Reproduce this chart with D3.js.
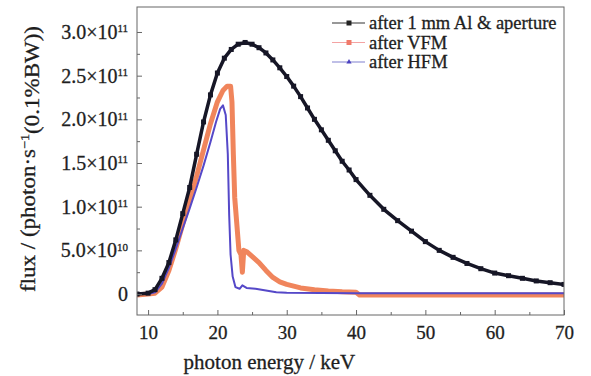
<!DOCTYPE html>
<html>
<head>
<meta charset="utf-8">
<script src="https://cdn.jsdelivr.net/npm/d3@7"></script>
<style>
  body { margin: 0; background: #fff; }
  svg text { font-family: "Liberation Serif", "Times New Roman", serif; fill: #1e1e1e; stroke: #1e1e1e; stroke-width: 0.3px; }
</style>
</head>
<body>
<div id="chart"></div>
<script>
// flux values are in units of 1e11 photon/s/(0.1%BW)
const energyAl = [8.4, 10, 11, 12, 13, 14, 15, 16, 17, 18, 19, 20, 21, 22, 23, 24, 25, 26, 27, 28, 29, 30,
  31, 32, 33, 34, 35, 36, 37, 38, 39, 40, 42, 44, 46, 48, 50, 52, 54, 56, 58, 60, 62, 64, 66, 68, 70];
const fluxAl = [0.0, 0.01, 0.05, 0.18, 0.36, 0.62, 0.92, 1.22, 1.6, 1.97, 2.28, 2.53, 2.7, 2.8, 2.86, 2.88,
  2.86, 2.82, 2.76, 2.68, 2.59, 2.49, 2.38, 2.26, 2.13, 2.0, 1.88, 1.76, 1.64, 1.52, 1.42, 1.31,
  1.13, 0.97, 0.84, 0.72, 0.6, 0.5, 0.42, 0.35, 0.29, 0.24, 0.21, 0.18, 0.15, 0.13, 0.11];

const energyVFM = [8.4, 10, 11, 12, 13, 14, 15, 16, 17, 18, 19, 20, 20.8, 21.4, 21.9, 22.1, 22.3, 22.5,
  22.8, 23.1, 23.4, 23.6, 23.8, 24.3, 25, 26, 27, 28, 29, 30, 32, 34, 36, 38, 40, 40.5, 50, 60, 70];
const fluxVFM = [-0.01, 0.0, 0.01, 0.08, 0.27, 0.52, 0.8, 1.07, 1.35, 1.65, 1.95, 2.2, 2.33, 2.38, 2.38,
  2.2, 1.6, 1.1, 0.8, 0.5, 0.45, 0.25, 0.5, 0.48, 0.43, 0.36, 0.27, 0.19, 0.14, 0.11, 0.07, 0.05,
  0.035, 0.025, 0.02, -0.01, -0.01, -0.01, -0.01];

const energyHFM = [8.4, 10, 11, 12, 13, 14, 15, 16, 17, 18, 19, 19.8, 20.4, 20.8, 21.2, 21.5, 21.7,
  21.9, 22.2, 22.6, 23.2, 23.6, 24.2, 25.5, 27, 28.5, 30, 40, 50, 60, 70];
const fluxHFM = [0.0, 0.0, 0.02, 0.12, 0.3, 0.52, 0.75, 0.98, 1.22, 1.47, 1.74, 1.97, 2.12, 2.16, 2.05,
  1.6, 0.9, 0.45, 0.2, 0.08, 0.06, 0.1, 0.07, 0.06, 0.04, 0.02, 0.015, 0.01, 0.01, 0.01, 0.01];

const xTicks = [10, 20, 30, 40, 50, 60, 70];
const xMinorTicks = [15, 25, 35, 45, 55, 65];
const yTicks = [0, 0.5, 1.0, 1.5, 2.0, 2.5, 3.0];
const yMinorTicks = [0.25, 0.75, 1.25, 1.75, 2.25, 2.75];
const yTickMantissa = ["0", "5.0×10", "1.0×10", "1.5×10", "2.0×10", "2.5×10", "3.0×10"];
const yTickExponent = ["", "10", "11", "11", "11", "11", "11"];
const legendLabels = ["after 1 mm Al & aperture", "after VFM", "after HFM"];

const width = 591, height = 376;
const margin = { top: 7, right: 27, bottom: 61, left: 137 };
const innerW = width - margin.left - margin.right;
const innerH = height - margin.top - margin.bottom;

const svg = d3.select('#chart').append('svg')
  .attr('width', width)
  .attr('height', height);

const g = svg.append('g')
  .attr('transform', `translate(${margin.left},${margin.top})`);

const x = d3.scaleLinear().domain([8.4, 70]).range([0, innerW]);
const y = d3.scaleLinear().domain([-0.24, 3.286]).range([innerH, 0]);

// curves
const line = d3.line().x(d => x(d[0])).y(d => y(d[1]));
const zip = (a, b) => a.map((v, i) => [v, b[i]]);

const series = [
  { data: zip(energyVFM, fluxVFM), color: '#f0855c', width: 5 },
  { data: zip(energyHFM, fluxHFM), color: '#5548c8', width: 2 },
  { data: zip(energyAl, fluxAl), color: '#161626', width: 3.5 }
];

g.append('defs').append('clipPath').attr('id', 'clip')
  .append('rect').attr('width', innerW).attr('height', innerH);

const plot = g.append('g').attr('clip-path', 'url(#clip)');

series.forEach(s => {
  plot.append('path')
    .datum(s.data)
    .attr('fill', 'none')
    .attr('stroke', s.color)
    .attr('stroke-width', s.width)
    .attr('stroke-linejoin', 'round')
    .attr('d', line);
});

// black squares on the unfiltered curve
plot.selectAll('.sq')
  .data(series[2].data)
  .enter().append('rect')
  .attr('class', 'sq')
  .attr('x', d => x(d[0]) - 2.5)
  .attr('y', d => y(d[1]) - 2.5)
  .attr('width', 5)
  .attr('height', 5)
  .attr('fill', '#161626');

// axes, ticks pointing inward
const axisColor = '#666';
const xAxis = g.append('g').attr('transform', `translate(0,${innerH})`)
  .call(d3.axisBottom(x).tickValues(xTicks).tickSizeInner(-5).tickSizeOuter(0).tickPadding(11));
g.append('g').attr('transform', `translate(0,${innerH})`)
  .call(d3.axisBottom(x).tickValues(xMinorTicks).tickSizeInner(-3).tickSizeOuter(0).tickFormat(''));
g.append('g')
  .call(d3.axisLeft(y).tickValues(yTicks).tickSizeInner(-5).tickSizeOuter(0).tickFormat(''));
g.append('g')
  .call(d3.axisLeft(y).tickValues(yMinorTicks).tickSizeInner(-3).tickSizeOuter(0).tickFormat(''));

g.selectAll('.domain').remove();
g.selectAll('.tick line').attr('stroke', axisColor);
xAxis.selectAll('text')
  .style('font-size', '19px')
  .attr('fill', '#1e1e1e');

// y tick labels with superscript exponents
const yLab = g.append('g');
yTicks.forEach((t, i) => {
  const txt = yLab.append('text')
    .attr('x', -9)
    .attr('y', y(t))
    .attr('dy', '0.35em')
    .attr('text-anchor', 'end')
    .style('font-size', '20px');
  txt.append('tspan').text(yTickMantissa[i]);
  if (yTickExponent[i]) {
    txt.append('tspan')
      .attr('dy', '-0.6em')
      .style('font-size', '11px')
      .text(yTickExponent[i]);
  }
});

// frame
g.append('rect')
  .attr('width', innerW)
  .attr('height', innerH)
  .attr('fill', 'none')
  .attr('stroke', axisColor)
  .attr('stroke-width', 1);

// axis titles
svg.append('text')
  .attr('x', margin.left + x(27.5))
  .attr('y', 369)
  .attr('text-anchor', 'middle')
  .style('font-size', '21px')
  .text('photon energy / keV');

const yTitle = svg.append('text')
  .attr('transform', 'translate(35,159) rotate(-90)')
  .attr('text-anchor', 'middle')
  .attr('textLength', 266)
  .attr('lengthAdjust', 'spacingAndGlyphs')
  .style('font-size', '21px');
yTitle.append('tspan').text('flux / (photon·s');
yTitle.append('tspan').attr('dy', '-0.5em').style('font-size', '13px').text('−1');
yTitle.append('tspan').attr('dy', '0.5em').text('(0.1%BW))');

// legend
const legendColors = [
  { line: '#333', fill: '#222', shape: 'square' },
  { line: '#f4a3a3', fill: '#f07a6a', shape: 'square' },
  { line: '#8080d0', fill: '#4a40c0', shape: 'triangle' }
];
const legend = svg.append('g').attr('transform', 'translate(332,23)');
legendLabels.forEach((lab, i) => {
  const row = legend.append('g').attr('transform', `translate(0,${i * 19.5})`);
  row.append('line')
    .attr('x1', 0).attr('x2', 33)
    .attr('stroke', legendColors[i].line)
    .attr('stroke-width', 1.2);
  if (legendColors[i].shape === 'square') {
    row.append('rect')
      .attr('x', 14.5).attr('y', -2.5)
      .attr('width', 5).attr('height', 5)
      .attr('fill', legendColors[i].fill);
  } else {
    row.append('path')
      .attr('d', d3.symbol(d3.symbolTriangle, 12)())
      .attr('transform', 'translate(17,0)')
      .attr('fill', legendColors[i].fill);
  }
  row.append('text')
    .attr('x', 37)
    .attr('dy', '0.33em')
    .style('font-size', '18.5px')
    .text(lab);
});
</script>
</body>
</html>
